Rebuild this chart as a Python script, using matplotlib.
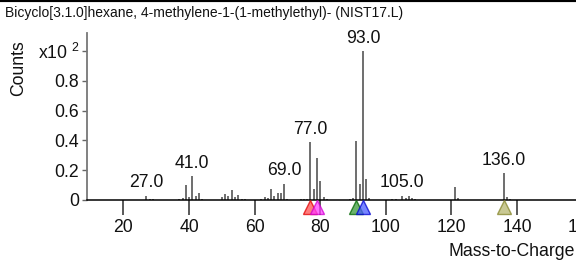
import matplotlib
matplotlib.use("Agg")
import matplotlib.pyplot as plt
from matplotlib.lines import Line2D

# spectrum data (abundance in % of base peak)
mz = [27, 28, 29, 37, 38, 39, 40, 41, 42, 43, 44,
      50, 51, 52, 53, 54, 55, 56, 57,
      62, 63, 64, 65, 66, 67, 68, 69, 70,
      74, 75, 76, 77, 78, 79, 80, 81, 82,
      89, 90, 91, 92, 93, 94, 95,
      102, 103, 105, 106, 107, 108, 109,
      121, 122, 136, 137, 138]
abund = [3, 1, 0.8, 0.8, 1.5, 10, 2, 16, 3, 5, 0.8,
         2, 4, 3, 6.5, 2, 3.5, 1, 0.8,
         0.8, 2, 1.5, 7.5, 3, 4.5, 5, 11, 1,
         0.5, 0.8, 1, 39, 7.5, 28, 12.5, 2, 0.5,
         0.5, 1.5, 39.5, 10.5, 100, 14, 1.5,
         0.5, 1, 3, 1.5, 3, 1.5, 0.5,
         8.5, 1.5, 18, 2, 0.5]

labeled = [27, 41, 69, 77, 93, 105, 136]

# triangle markers under the peaks
tri_mz = [77, 79, 91, 93, 136]
tri_face = ['#ff5050', '#ff40ff', '#3a9a3a', '#4a5cff', '#b8b870']
tri_edge = ['#e00000', '#d000d0', '#006600', '#0000d0', '#85852a']

title = "Bicyclo[3.1.0]hexane, 4-methylene-1-(1-methylethyl)- (NIST17.L)"
yticks = [0, 0.2, 0.4, 0.6, 0.8, 1.0]
yticklabels = ['0', '0.2', '0.4', '0.6', '0.8', 'x10 $^{2}$']
xticks = [20, 40, 60, 80, 100, 120, 140, 160]

plt.rcParams['font.family'] = 'Liberation Sans'
plt.rcParams['mathtext.fontset'] = 'custom'
plt.rcParams['mathtext.rm'] = 'Liberation Sans'
plt.rcParams['mathtext.default'] = 'regular'

W, H = 576, 266
fig = plt.figure(figsize=(W / 100, H / 100), dpi=100)
ax = fig.add_axes([87 / W, 66 / H, 512 / W, 167 / H])

fs = 12.7
for m, a in zip(mz, abund):
    ax.vlines(m, 0, a / 100, color='#555555', lw=1.2)

for m in labeled:
    a = abund[mz.index(m)] / 100
    ax.annotate('%.1f' % m, (m, a), xytext=(0, 3), textcoords='offset points',
                ha='center', va='bottom', fontsize=fs, color='#111111')

for m, fc, ec in zip(tri_mz, tri_face, tri_edge):
    ax.plot(m, -0.046, marker='^', ms=9.8, mfc=fc, mec=ec, mew=1,
            alpha=0.75, clip_on=False, zorder=5)

ax.set_xlim(8.87, 165)
ax.set_ylim(0, 1.12)
ax.spines['top'].set_visible(False)
ax.spines['right'].set_visible(False)
ax.spines['left'].set_color('#777777')
ax.spines['left'].set_linewidth(1.3)
ax.spines['bottom'].set_color('black')
ax.spines['bottom'].set_linewidth(1.1)

ax.set_yticks(yticks)
ax.set_yticklabels(yticklabels)
ax.set_xticks(xticks)
ax.tick_params(axis='y', length=3.5, width=1, color='#666666', pad=2,
               labelsize=fs, labelcolor='#111111')
ax.tick_params(axis='x', length=11, width=1.2, color='#3c3c3c', pad=3,
               labelsize=fs, labelcolor='#111111')

fig.text(19 / W, 1 - 68 / H, 'Counts', rotation=90, ha='center', va='center',
         fontsize=fs, color='#111111')
fig.text(575 / W, 1 - 251 / H, 'Mass-to-Charge', ha='right', va='center',
         fontsize=fs, color='#111111')
fig.text(5 / W, 1 - 13 / H, title, ha='left', va='center', fontsize=10,
         color='#111111')

fig.add_artist(Line2D([0, 1], [1, 1], transform=fig.transFigure,
                      color='black', lw=3))

fig.savefig('out.png', dpi=100)
